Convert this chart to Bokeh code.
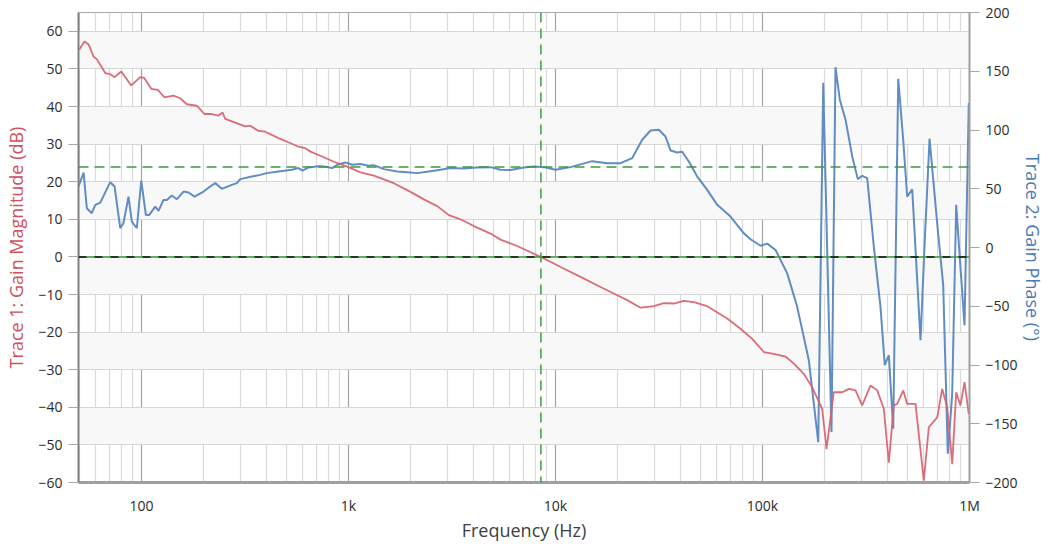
from bokeh.plotting import figure
from bokeh.models import (Range1d, LinearAxis, Span, FixedTicker, CustomJSTickFormatter,
                          SingleIntervalTicker)
from bokeh.embed import file_html
from bokeh.resources import INLINE

# ---- data ----
freq_mag = [50, 53, 55.5, 58.6, 60.8, 66.8, 70.6, 74.1, 79.8, 89.2, 98.6, 103, 111.4, 119.9,
            129.1, 142.7, 153.8, 165.5, 185, 201.6, 218.6, 235.5, 246.2, 253.7, 283.6, 317,
            335.1, 367.5, 396, 459, 532, 573, 618, 655, 716, 760, 849, 986, 1143, 1325, 1655,
            1993, 2311, 2683, 3052, 3476, 4030, 4853, 5424, 6531, 8464, 9459, 10573, 13208,
            16500, 19870, 22210, 25740, 29850, 33360, 37280, 41670, 46570, 54060, 67530, 78290,
            89180, 101500, 113400, 129100, 141700, 158300, 173800, 194300, 203800, 221000,
            242700, 261200, 281400, 303100, 332500, 358400, 385500, 407600, 430900, 447500,
            478300, 500000, 548400, 601500, 635900, 698300, 738200, 780500, 825000, 862500,
            904600, 945900, 992200]
mag_db = [55.1, 57.3, 56.5, 53.3, 52.6, 48.9, 48.6, 47.8, 49.3, 45.6, 47.8, 47.6, 44.7, 44.4,
          42.4, 42.9, 42.2, 40.6, 40.2, 38.0, 38.0, 37.6, 38.4, 36.7, 35.7, 34.7,
          34.9, 33.5, 33.3, 31.6, 30.1, 29.3, 28.9, 28.0, 27.1, 26.5, 25.3, 24.0, 22.5, 21.6, 19.6,
          17.3, 15.3, 13.5, 11.1, 10.0, 8.2, 6.2, 4.6, 2.9, 0.0, -1.3, -2.7, -5.3,
          -8.0, -10.2, -11.5, -13.5, -13.1, -12.3, -12.4, -11.7, -12.0, -13.1, -16.4, -19.1,
          -21.8, -25.3, -25.8, -26.5, -28.4, -31.1, -34.7, -40.4, -51.1, -36.0,
          -36.0, -35.1, -35.5, -39.5, -34.2, -35.5, -40.4, -54.7, -39.5, -39.1,
          -35.5, -39.1, -39.1, -59.5, -45.3, -42.7, -35.1, -40.0, -55.1, -36.0,
          -39.5, -33.3, -41.8]

freq_phase = [49.6, 52.5, 54.4, 57.5, 59.8, 63.2, 70.6, 74.1, 78.9, 81.8, 86.5, 89.8, 94.9, 99.7,
              104.9, 109, 116.5, 120.8, 127.7, 132.5, 140.1, 148.1, 159.6, 168.7, 180.3, 199.3,
              214.7, 227, 244.3, 273.1, 288.7, 299.9, 341.2, 374.5, 403, 459, 532, 573, 599.7,
              641, 716, 760, 834, 882, 967, 1042, 1143, 1254, 1325, 1481, 1719, 1921, 2147,
              2443, 2782, 3110, 3606, 4185, 4853, 5424, 6062, 7029, 7855, 8779, 10000, 11820,
              15040, 17770, 20610, 23470, 26230, 28770, 31550, 33990, 35930, 38710, 40940,
              44060, 48370, 54060, 60420, 70050, 81230, 87500, 97800, 105400, 115600, 131600,
              147100, 167400, 185900, 196500, 215400, 225200, 236300, 251800, 271300, 288700,
              303100, 320500, 345000, 371500, 389800, 407600, 428000, 452600, 478300, 500000,
              528700, 579900, 606200, 641000, 702900, 746400, 785700, 825000, 862500, 887700,
              945900, 992200]
phase_deg = [51.9, 63.8, 33.4, 29.2, 36.3, 38.2, 55.6, 51.9, 16.4, 20.6, 43.3, 22.0, 16.4, 57.0,
             27.7, 27.7, 34.8, 31.1, 40.5, 40.5, 44.2, 41.1, 47.6, 46.8, 43.3, 47.6,
             51.9, 54.8, 49.9, 53.3, 54.8, 58.2, 60.4, 61.8, 63.3, 64.7, 66.1, 67.6, 65.5,
             68.1, 69.2, 68.9, 67.6, 70.4, 72.3, 70.4, 71.0, 69.5, 70.1, 66.7, 64.7, 64.1, 63.3,
             64.7, 66.1, 67.6, 67.2, 68.1, 68.4, 66.1, 65.9, 68.1, 68.9, 68.4, 66.1, 68.4,
             73.5, 71.8, 71.8, 76.1, 91.7, 99.6, 100.2, 94.5, 82.6, 80.9, 81.5,
             73.2, 60.4, 49.0, 36.3, 26.3, 12.1, 7.0, 1.5, 3.3, -2.1, -22.0,
             -50.5, -96.0, -165.7, 140.1, -157.1, 153.4, 125.8, 108.8, 77.5, 58.2,
             61.0, 59.0, 0.7, -50.5, -100.2, -91.7, -154.2, 143.5, 91.7, 43.3,
             49.6, -78.9, 0.7, 92.6, 14.9, -32.0, -175.5, -124.4, 36.3, 3.6,
             -66.1, 123.0]

x_ticks = [100, 1000, 10000, 100000, 1000000]
x_minor = [m * 10 ** e for e in range(1, 6) for m in range(2, 10) if m * 10 ** e >= 50]
crossover_hz = 8500
phase_margin_deg = 68.5

FONT = "Open Sans"
RED = "#d9606b"
BLUE = "#5283bd"
GREEN = "#3d9c3d"

p = figure(width=1048, height=544, x_axis_type="log",
           x_range=Range1d(49.6, 1e6), y_range=Range1d(-60, 65),
           output_backend="svg", toolbar_location=None,
           min_border_left=78, min_border_right=79, min_border_top=12, min_border_bottom=62)
p.extra_y_ranges = {"phase": Range1d(-200, 200)}
p.background_fill_color = "white"
p.border_fill_color = "white"
p.outline_line_color = "#a8a8a8"
p.outline_line_width = 1

# x axis
xa = p.xaxis[0]
xa.ticker = FixedTicker(ticks=x_ticks, minor_ticks=x_minor)
xa.formatter = CustomJSTickFormatter(code="""
  const t = Math.round(tick);
  if (t >= 1000000) return (t/1000000) + 'M';
  if (t >= 1000) return (t/1000) + 'k';
  return '' + t;
""")
xa.axis_label = "Frequency (Hz)"
xa.major_tick_out = 0
xa.major_tick_in = 0
xa.minor_tick_out = 0
xa.minor_tick_in = 0
xa.axis_line_color = "#a0a0a0"
xa.axis_line_width = 3
xa.major_label_standoff = 13
xa.axis_label_standoff = 0

# left y axis
ya = p.yaxis[0]
ya.ticker = SingleIntervalTicker(interval=10)
ya.axis_label = "Trace 1: Gain Magnitude (dB)"
ya.axis_label_text_color = "#d0505c"
ya.major_tick_out = 10
ya.major_tick_in = 0
ya.minor_tick_out = 0
ya.minor_tick_in = 0
ya.major_tick_line_color = "#a8a8a8"
ya.axis_line_color = "#808080"
ya.axis_line_width = 2
ya.major_label_standoff = 6
ya.axis_label_standoff = 7

# right y axis
yr = LinearAxis(y_range_name="phase", ticker=SingleIntervalTicker(interval=50),
                axis_label="Trace 2: Gain Phase (°)")
yr.axis_label_text_color = "#4a7ab5"
yr.major_tick_out = 10
yr.major_tick_in = 0
yr.minor_tick_out = 0
yr.minor_tick_in = 0
yr.major_tick_line_color = "#a8a8a8"
yr.axis_line_color = "#a0a0a0"
yr.axis_line_width = 2
yr.major_label_standoff = 6
yr.axis_label_standoff = 0
p.add_layout(yr, "right")

for ax in (xa, ya, yr):
    ax.major_label_text_font = FONT
    ax.major_label_text_font_size = "14px"
    ax.major_label_text_color = "#2b2b2b"
    ax.axis_label_text_font = FONT
    ax.axis_label_text_font_size = "18px"
    ax.axis_label_text_font_style = "normal"
xa.axis_label_text_color = "#404040"

# grids
p.xgrid.grid_line_color = "#a4a4a4"
p.xgrid.grid_line_width = 1.2
p.xgrid.minor_grid_line_color = "#d9d9d9"
p.xgrid.minor_grid_line_width = 1.2
p.ygrid.grid_line_color = "#d6d6d6"
p.ygrid.grid_line_width = 1.2
p.ygrid.band_fill_color = "#f8f8f8"
p.ygrid.band_fill_alpha = 1.0

# reference lines
p.add_layout(Span(location=0, dimension="width", line_color=GREEN, line_width=1.5))
p.add_layout(Span(location=0, dimension="width", line_color="#111111", line_width=1.5,
                  line_dash="8 8"))
p.add_layout(Span(location=phase_margin_deg, dimension="width", y_range_name="phase",
                  line_color=GREEN, line_width=1.5, line_dash="10 6"))
p.add_layout(Span(location=crossover_hz, dimension="height", line_color=GREEN,
                  line_width=1.5, line_dash="10 6"))

# traces
p.line(freq_phase, phase_deg, y_range_name="phase", line_color=BLUE, line_width=2.0,
       line_alpha=0.92)
p.line(freq_mag, mag_db, line_color=RED, line_width=1.8, line_alpha=0.92)

open("out.html", "w").write(file_html(p, INLINE))
